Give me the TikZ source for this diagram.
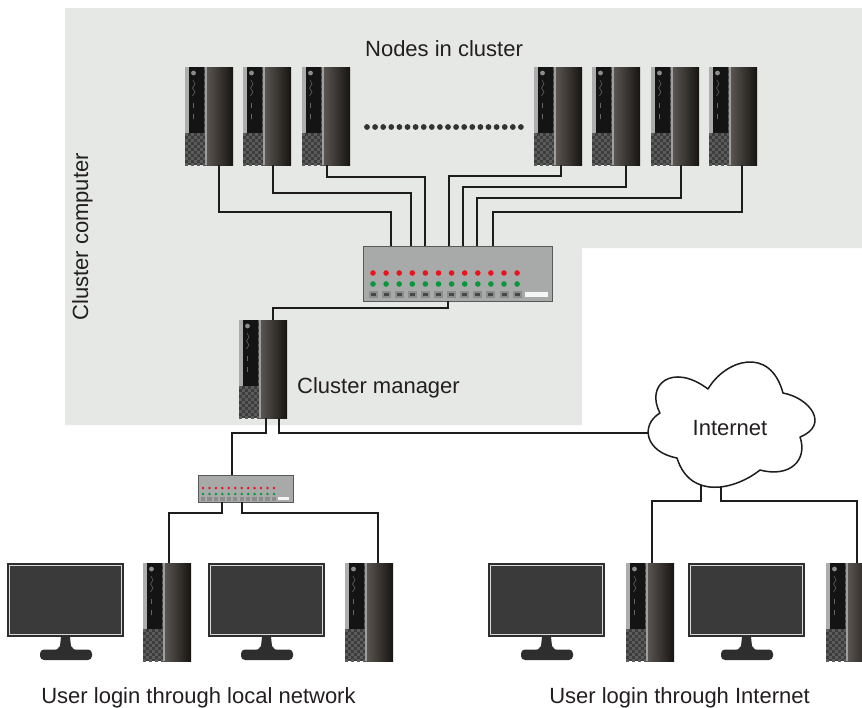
\documentclass[tikz,border=0pt]{standalone}
\usepackage{fontspec}
\setmainfont{Liberation Sans}
\usetikzlibrary{calc}

\definecolor{clusterbg}{RGB}{230,232,230}
\definecolor{wire}{RGB}{30,28,28}
\definecolor{caseL}{RGB}{92,87,82}
\definecolor{caseR}{RGB}{22,19,17}
\definecolor{screen}{RGB}{58,58,58}
\definecolor{swbody}{RGB}{168,170,170}
\definecolor{ledred}{RGB}{232,20,30}
\definecolor{ledgreen}{RGB}{10,150,60}
\definecolor{labeltext}{RGB}{35,31,32}

\tikzset{
  cable/.style={draw=wire, line width=1.8pt},
  towerbody/.style={minimum width=48pt, minimum height=98pt, inner sep=0pt, outer sep=0pt, anchor=north west},
  screenbody/.style={minimum width=117pt, minimum height=74pt, inner sep=0pt, outer sep=0pt, anchor=north west},
  switchbody/.style={fill=swbody, draw=black!65, line width=0.9pt, inner sep=0pt, outer sep=0pt, anchor=north west},
  lbl/.style={text=labeltext, font=\fontsize{22}{26}\selectfont, inner sep=0pt},
}

% tower PC: name, top-left x, top-left y
\newcommand\towerunit[3]{%
  \node[towerbody] (#1) at (#2,#3) {};
  \begin{scope}[shift={(#2,#3)}]
    \fill[black!76] (0,0) rectangle (21,98);
    \begin{scope}
      \clip (0,0) rectangle (21,98);
      \foreach \j in {0,...,32} {
        \pgfmathsetmacro\off{3*mod(\j,2)}
        \foreach \i in {0,6,12,18}
          \fill[black!64] (\i+\off,3*\j) rectangle +(3,3);
      }
    \end{scope}
    \shade[left color=caseL, right color=caseR] (21,0) rectangle (48,98);
    \fill[black!38] (19.5,0) rectangle (22,98);
    \fill[black!32] (0,0) rectangle (3.5,66);
    \fill[black!92] (4,0) rectangle (19,66);
    \fill[black!45] (8.5,6) circle (2.4pt);
    \draw[black!62, line width=0.6pt] (8,13) -- (10,17) -- (7.5,21) -- (10,25) -- (7.5,29);
    \draw[black!60, line width=1pt] (8.5,36) -- (8.5,41) (8.5,47) -- (8.5,52);
  \end{scope}}

% flat screen monitor: name, top-left x, top-left y
\newcommand\screenunit[3]{%
  \node[screenbody] (#1) at (#2,#3) {};
  \begin{scope}[shift={(#2,#3)}]
    \fill[black!82] (0,0) rectangle (117,74);
    \fill[black!15] (1.8,1.8) rectangle (115.2,72.2);
    \fill[screen] (3.4,3.4) rectangle (113.6,70.6);
    \fill[black!82] (54,74) -- (63,74) -- (64,83) .. controls (65,86) and (68,87) .. (72,88)
      -- (45,88) .. controls (49,87) and (52,86) .. (53,83) -- cycle;
    \fill[black!82, rounded corners=4pt] (33,86.5) rectangle (85,97);
  \end{scope}}

\begin{document}
\begin{tikzpicture}[x=1pt, y=-1pt]
\useasboundingbox (0,0) rectangle (862,707);
\clip (0,0) rectangle (862,707);
\fill[white] (0,0) rectangle (862,707);

% cluster area
\fill[clusterbg] (65,8) -- (862,8) -- (862,248) -- (582,248) -- (582,425) -- (65,425) -- cycle;

% cluster nodes
\towerunit{n1}{185}{67}
\towerunit{n2}{243}{67}
\towerunit{n3}{302}{67}
\towerunit{n4}{534}{67}
\towerunit{n5}{592}{67}
\towerunit{n6}{651}{67}
\towerunit{n7}{709}{67}
\foreach \i in {0,...,19} \fill[black!80] (367+8.1*\i,127) circle (2.9pt);

% main switch
\node[switchbody, minimum width=189pt, minimum height=55pt] (sw) at (363,246) {};
\foreach \i in {0,...,11} {
  \fill[ledred] (373+13.1*\i,273) circle (2.8pt);
  \fill[ledgreen] (373+13.1*\i,284) circle (2.8pt);
  \fill[black!45] (368.5+13.1*\i,291) rectangle +(9,7);
  \fill[black!72] (370.5+13.1*\i,293) rectangle +(5,3);
}
\fill[black!4] (525,292) rectangle (548,297);

% cluster manager
\towerunit{cm}{239}{320}

% local switch
\node[switchbody, minimum width=95pt, minimum height=27pt] (lsw) at (198,475) {};
\foreach \i in {0,...,11} {
  \fill[ledred] (203+6.45*\i,488) circle (1.4pt);
  \fill[ledgreen] (203+6.45*\i,494) circle (1.4pt);
  \fill[black!45] (200.8+6.45*\i,497) rectangle +(4.4,3.5);
}
\fill[black!4] (278,496.5) rectangle (289,499.5);

% user machines
\screenunit{m1}{7}{563}
\towerunit{b1}{143}{563}
\screenunit{m2}{208}{563}
\towerunit{b2}{345}{563}
\screenunit{m3}{488}{563}
\towerunit{b3}{626}{563}
\screenunit{m4}{688}{563}
\towerunit{b4}{826}{563}

% cloud anchor points (inside the cloud outline)
\coordinate (cw) at (655,433);
\coordinate (cb1) at (701,480);
\coordinate (cb2) at (721,480);

% cables: nodes to switch
\draw[cable] ([xshift=34pt]n1.south west) -- ++(0,47) -| ([xshift=28pt]sw.north west);
\draw[cable] ([xshift=30pt]n2.south west) -- ++(0,28) -| ([xshift=48pt]sw.north west);
\draw[cable] ([xshift=25pt]n3.south west) -- ++(0,12) -| ([xshift=62pt]sw.north west);
\draw[cable] ([xshift=27pt]n4.south west) -- ++(0,11) -| ([xshift=86pt]sw.north west);
\draw[cable] ([xshift=34pt]n5.south west) -- ++(0,22) -| ([xshift=100pt]sw.north west);
\draw[cable] ([xshift=30pt]n6.south west) -- ++(0,33) -| ([xshift=114pt]sw.north west);
\draw[cable] ([xshift=33pt]n7.south west) -- ++(0,47) -| ([xshift=130pt]sw.north west);
% switch to manager
\draw[cable] ([xshift=85pt]sw.south west) -- ++(0,7) -| ([xshift=34pt]cm.north west);
% manager to local switch and Internet
\draw[cable] ([xshift=27pt]cm.south west) -- ++(0,15) -| ([xshift=34pt]lsw.north west);
\draw[cable] ([xshift=40pt]cm.south west) -- ++(0,15) -- (cw);
% local switch to user PCs
\draw[cable] ([xshift=24pt]lsw.south west) -- ++(0,11) -| ([xshift=26pt]b1.north west);
\draw[cable] ([xshift=44pt]lsw.south west) -- ++(0,11) -| ([xshift=33pt]b2.north west);
% Internet to remote PCs
\draw[cable] (cb1) -- ++(0,21) -| ([xshift=26pt]b3.north west);
\draw[cable] (cb2) -- ++(0,21) -| ([xshift=31pt]b4.north west);

% Internet cloud
\path[draw=wire, fill=white, line width=1.5pt, line join=round]
  (660,413) .. controls (645,385) and (672,362) .. (708,389)
  .. controls (725,360) and (770,345) .. (783,393)
  .. controls (810,398) and (830,425) .. (800,437)
  .. controls (808,460) and (790,478) .. (760,470)
  .. controls (735,490) and (690,500) .. (677,458)
  .. controls (645,452) and (640,425) .. (660,413) -- cycle;

% labels
\node[lbl, anchor=base] (tnodes) at (444,56) {Nodes in cluster};
\node[lbl, anchor=base, rotate=90] (tcluster) at (88,237) {Cluster computer};
\node[lbl, anchor=base west] (tmanager) at (297,393) {Cluster manager};
\node[lbl, anchor=base] (tinet) at (730,435) {Internet};
\node[lbl, anchor=base] (tlocal) at (198.5,703) {User login through local network};
\node[lbl, anchor=base] (tremote) at (679.5,703) {User login through Internet};
\end{tikzpicture}
\end{document}
